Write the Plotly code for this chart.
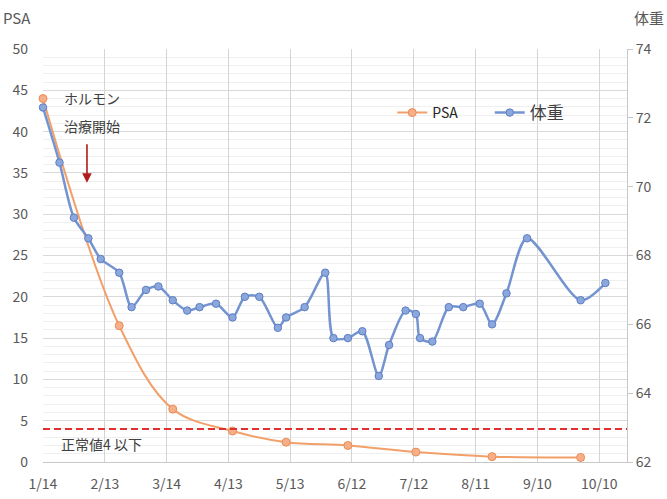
import plotly.graph_objects as go

# ---------------- data ----------------
psa_dates = ["2020-01-14", "2020-02-20", "2020-03-17", "2020-04-15", "2020-05-11",
             "2020-06-10", "2020-07-13", "2020-08-19", "2020-10-01"]
psa_values = [44.0, 16.5, 6.4, 3.75, 2.4, 2.0, 1.2, 0.65, 0.55]

weight_dates = ["2020-01-14", "2020-01-22", "2020-01-29", "2020-02-05", "2020-02-11",
                "2020-02-20", "2020-02-26", "2020-03-04", "2020-03-10", "2020-03-17",
                "2020-03-24", "2020-03-30", "2020-04-07", "2020-04-15", "2020-04-21",
                "2020-04-28", "2020-05-07", "2020-05-11", "2020-05-20", "2020-05-30",
                "2020-06-03", "2020-06-10", "2020-06-17", "2020-06-25", "2020-06-30",
                "2020-07-08", "2020-07-13", "2020-07-15", "2020-07-21", "2020-07-29",
                "2020-08-05", "2020-08-13", "2020-08-19", "2020-08-26", "2020-09-05",
                "2020-10-01", "2020-10-13"]
weight_values = [72.3, 70.7, 69.1, 68.5, 67.9,
                 67.5, 66.5, 67.0, 67.1, 66.7,
                 66.4, 66.5, 66.6, 66.2, 66.8,
                 66.8, 65.9, 66.2, 66.5, 67.5,
                 65.6, 65.6, 65.8, 64.5, 65.4,
                 66.4, 66.3, 65.6, 65.5, 66.5,
                 66.5, 66.6, 66.0, 66.9, 68.5,
                 66.7, 67.2]

tick_dates = ["2020-01-14", "2020-02-13", "2020-03-14", "2020-04-13", "2020-05-13",
              "2020-06-12", "2020-07-12", "2020-08-11", "2020-09-10", "2020-10-10"]
tick_labels = ["1/14", "2/13", "3/14", "4/13", "5/13", "6/12", "7/12", "8/11", "9/10", "10/10"]

NORMAL_LIMIT = 4

FONT = "Noto Sans CJK JP"
TICK_COLOR = "#595959"

fig = go.Figure()

fig.add_trace(go.Scatter(
    x=psa_dates, y=psa_values, name="PSA", mode="lines+markers",
    line=dict(color="#f2a06a", width=2, shape="spline", smoothing=1.0),
    marker=dict(size=8, color="#f5b08a", line=dict(color="#ee8a52", width=1)),
    cliponaxis=False, legend="legend", yaxis="y",
))

fig.add_trace(go.Scatter(
    x=weight_dates, y=weight_values, name="体重", mode="lines+markers",
    line=dict(color="#7394d0", width=2.5, shape="spline", smoothing=0.8),
    marker=dict(size=7.5, color="#8ca7dc", line=dict(color="#5a7ec6", width=1)),
    cliponaxis=False, legend="legend2", yaxis="y2",
))

fig.add_shape(type="line", xref="paper", x0=0, x1=1, yref="y",
              y0=NORMAL_LIMIT, y1=NORMAL_LIMIT,
              line=dict(color="#e0302f", width=2, dash="7px,4px"), layer="above")

annotations = [
    dict(text="PSA", xref="paper", yref="paper", x=-0.072, y=1.077,
         xanchor="left", yanchor="middle", showarrow=False,
         font=dict(size=15, color=TICK_COLOR)),
    dict(text="体重", xref="paper", yref="paper", x=1.066, y=1.077,
         xanchor="right", yanchor="middle", showarrow=False,
         font=dict(size=15, color=TICK_COLOR)),
    dict(text="ホルモン", xref="paper", yref="paper", x=0.032, y=0.881,
         xanchor="left", yanchor="middle", showarrow=False,
         font=dict(size=14, color="#404040")),
    dict(text="治療開始", xref="paper", yref="paper", x=0.032, y=0.814,
         xanchor="left", yanchor="middle", showarrow=False,
         font=dict(size=14, color="#404040")),
    dict(text="", xref="paper", yref="paper", x=0.0753, y=0.676,
         ax=0, ay=-40, showarrow=True, arrowhead=2, arrowsize=1.2,
         arrowwidth=1.6, arrowcolor="#b01c1c"),
    dict(text="正常値4 以下", xref="paper", yref="paper", x=0.027, y=0.044,
         xanchor="left", yanchor="middle", showarrow=False,
         font=dict(size=14, color="#404040")),
]

fig.update_layout(
    width=667, height=499,
    margin=dict(l=43, r=40, t=49, b=37),
    paper_bgcolor="white", plot_bgcolor="white",
    font=dict(family=FONT, color=TICK_COLOR, size=14),
    showlegend=True,
    legend=dict(x=0.598, y=0.845, xanchor="left", yanchor="middle",
                orientation="h", bgcolor="rgba(0,0,0,0)",
                font=dict(size=14, color="#262626", family=FONT)),
    legend2=dict(x=0.765, y=0.845, xanchor="left", yanchor="middle",
                 orientation="h", bgcolor="rgba(0,0,0,0)",
                 font=dict(size=17, color="#404040", family=FONT)),
    annotations=annotations,
    xaxis=dict(
        type="date", range=["2020-01-14", "2020-10-23 12:00"],
        tickvals=tick_dates, ticktext=tick_labels, automargin=False,
        showgrid=True, gridcolor="#d4d4d4", gridwidth=1.2,
        showline=True, linecolor="#c8c8c8", zeroline=False,
        ticks="", ticklabelstandoff=9,
        tickfont=dict(size=14, color=TICK_COLOR),
    ),
    yaxis=dict(
        range=[0, 50], dtick=5, tick0=0, automargin=False,
        showgrid=True, gridcolor="#d9d9d9", gridwidth=1,
        minor=dict(dtick=1, showgrid=True, gridcolor="#efefef", gridwidth=1),
        zeroline=False, showline=False, ticks="",
        ticklabelstandoff=14,
        tickfont=dict(size=14, color=TICK_COLOR),
    ),
    yaxis2=dict(
        range=[62, 74], dtick=2, tick0=62, overlaying="y", side="right",
        automargin=False,
        showgrid=False, zeroline=False, showline=True, linecolor="#c8c8c8",
        ticks="outside", ticklen=5, tickcolor="#c8c8c8",
        tickfont=dict(size=14, color=TICK_COLOR),
    ),
)

fig.write_html("out.html")
